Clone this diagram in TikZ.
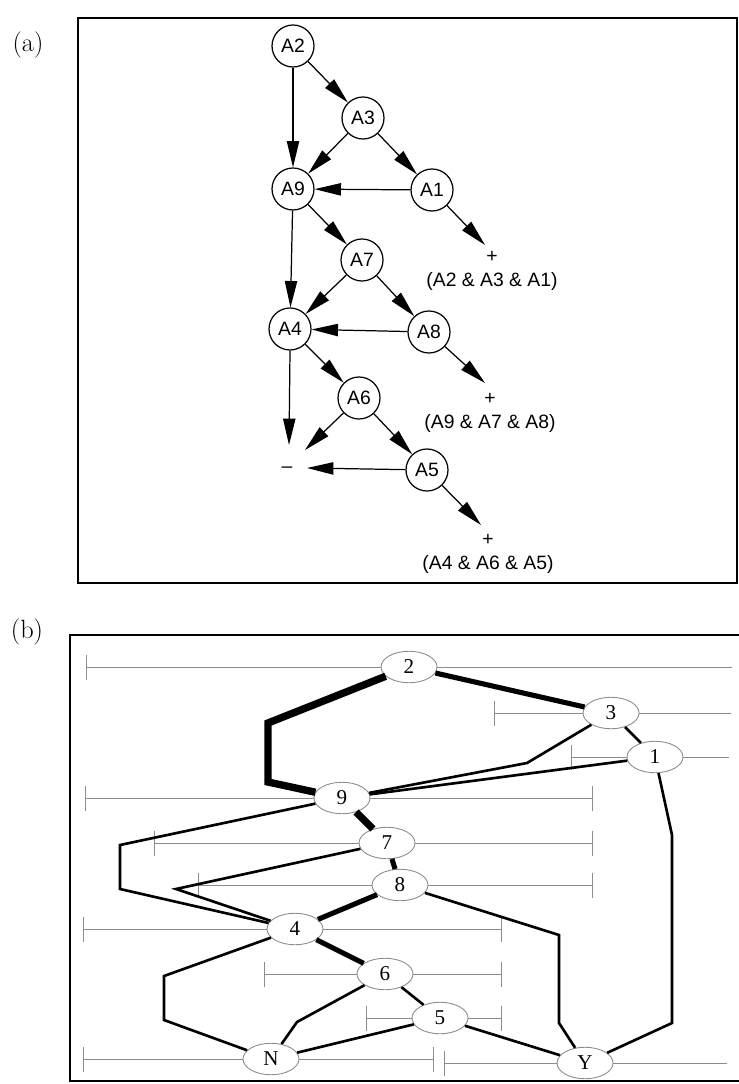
\documentclass[tikz,border=0pt]{standalone}
\usepackage{fontspec}
\newfontfamily\sansA{Liberation Sans}
\newfontfamily\serifB{Liberation Serif}
\usetikzlibrary{arrows.meta,shapes.geometric}
\tikzset{btick/.tip={Bar[width=0.5cm]}}
\begin{document}
\begin{tikzpicture}[x=0.02cm,y=-0.02cm,
  anode/.style={circle,draw,line width=0.7pt,minimum size=0.84cm,inner sep=0pt,font=\sansA\fontsize{11}{13}\selectfont},
  aarr/.style={line width=0.7pt,-{Triangle[length=15pt,width=7pt]}},
  alab/.style={align=center,inner sep=0pt,font=\sansA\fontsize{11}{14}\selectfont},
  plab/.style={inner sep=0pt,font=\fontsize{15}{17}\selectfont},
  bnode/.style={ellipse,draw=black!45,fill=white,line width=0.5pt,minimum width=1.12cm,minimum height=0.63cm,inner sep=0pt,font=\serifB\fontsize{12}{14}\selectfont},
  bint/.style={black!45,line width=0.5pt},
  bedge/.style={line width=1.5pt},
  bthick/.style={line width=2.9pt},
  bthicker/.style={line width=4.2pt},
  frame/.style={line width=0.7pt}
]
\useasboundingbox (0,0) rectangle (739,1084);
% ---------------- (a) ----------------
\node[plab] (la) at (28,45) {(a)};
\draw[frame] (78,18) rectangle (737,583);
\node[anode] (A2) at (293,46) {A2};
\node[anode] (A3) at (363,118) {A3};
\node[anode] (A9) at (293,189) {A9};
\node[anode] (A1) at (432,190) {A1};
\node[anode] (A7) at (362,260) {A7};
\node[anode] (A4) at (290,329) {A4};
\node[anode] (A8) at (429,332) {A8};
\node[anode] (A6) at (359,398) {A6};
\node[anode] (A5) at (427,470) {A5};
\node[alab] (P1) at (492,271) {+\\(A2 \& A3 \& A1)};
\node[alab] (P2) at (490,413) {+\\(A9 \& A7 \& A8)};
\node[alab] (P3) at (488,554) {+\\(A4 \& A6 \& A5)};
\node[alab] (M) at (287,470) {–};
\coordinate (e1) at (485,245);
\coordinate (e2) at (485,383);
\coordinate (e3) at (481,525);
\coordinate (m1) at (289,445);
\coordinate (m2) at (305,450);
\coordinate (m3) at (307,468);
\draw[aarr] (A2) -- (A3);
\draw[aarr] (A2) -- (A9);
\draw[aarr] (A3) -- (A9);
\draw[aarr] (A3) -- (A1);
\draw[aarr] (A1) -- (A9);
\draw[aarr] (A1) -- (e1);
\draw[aarr] (A9) -- (A7);
\draw[aarr] (A9) -- (A4);
\draw[aarr] (A7) -- (A4);
\draw[aarr] (A7) -- (A8);
\draw[aarr] (A8) -- (A4);
\draw[aarr] (A8) -- (e2);
\draw[aarr] (A4) -- (A6);
\draw[aarr] (A4.south) -- (m1);
\draw[aarr] (A6) -- (m2);
\draw[aarr] (A6) -- (A5);
\draw[aarr] (A5) -- (m3);
\draw[aarr] (A5) -- (e3);
% ---------------- (b) ----------------
\node[plab] (lb) at (27,632) {(b)};
\draw[frame] (70,635) rectangle (745,1081);
% interval lines
\draw[bint,{btick}-] (86,667) -- (732,667);
\draw[bint,{btick}-] (494,713) -- (731,713);
\draw[bint,{btick}-] (571,757) -- (729,757);
\draw[bint,{btick}-{btick}] (85,798) -- (593,798);
\draw[bint,{btick}-{btick}] (154,843) -- (593,843);
\draw[bint,{btick}-{btick}] (198,885) -- (593,885);
\draw[bint,{btick}-{btick}] (83,929) -- (502,929);
\draw[bint,{btick}-{btick}] (264,974) -- (502,974);
\draw[bint,{btick}-{btick}] (366,1018) -- (502,1018);
\draw[bint,{btick}-{btick}] (83,1059) -- (434,1059);
\draw[bint,{btick}-] (444,1063) -- (727,1063);
% nodes
\node[bnode] (n2) at (409,667) {2};
\node[bnode] (n3) at (611,713) {3};
\node[bnode] (n1) at (655,757) {1};
\node[bnode] (n9) at (342,798) {9};
\node[bnode] (n7) at (387,843) {7};
\node[bnode] (n8) at (400,885) {8};
\node[bnode] (n4) at (295,929) {4};
\node[bnode] (n6) at (385,974) {6};
\node[bnode] (n5) at (440,1018) {5};
\node[bnode] (nN) at (271,1059) {N};
\node[bnode] (nY) at (585,1063) {Y};
% bend points
\coordinate (b29a) at (268,723);
\coordinate (b29b) at (268,782);
\coordinate (b39) at (527,763);
\coordinate (b1Ya) at (672,835);
\coordinate (b1Yb) at (672,1023);
\coordinate (b94a) at (120,845);
\coordinate (b94b) at (120,889);
\coordinate (b74) at (176,889);
\coordinate (b8Ya) at (559,935);
\coordinate (b8Yb) at (559,1023);
\coordinate (b4Na) at (164,976);
\coordinate (b4Nb) at (164,1020);
\coordinate (b6N) at (297,1022);
% edges
\draw[bthicker] (n2) -- (b29a) -- (b29b) -- (n9);
\draw[bthick] (n2) -- (n3);
\draw[bedge] (n3) -- (b39) -- (n9);
\draw[bedge] (n3) -- (n1);
\draw[bedge] (n1) -- (n9);
\draw[bedge] (n1) -- (b1Ya) -- (b1Yb) -- (nY);
\draw[bedge] (n9) -- (b94a) -- (b94b) -- (n4);
\draw[bthicker] (n9) -- (n7);
\draw[bedge] (n7) -- (b74) -- (n4);
\draw[bthick] (n7) -- (n8);
\draw[bthick] (n8) -- (n4);
\draw[bedge] (n8) -- (b8Ya) -- (b8Yb) -- (nY);
\draw[bthick] (n4) -- (n6);
\draw[bedge] (n4) -- (b4Na) -- (b4Nb) -- (nN);
\draw[bedge] (n6) -- (b6N) -- (nN);
\draw[bedge] (n6) -- (n5);
\draw[bedge] (n5) -- (nN);
\draw[bedge] (n5) -- (nY);
\end{tikzpicture}
\end{document}
